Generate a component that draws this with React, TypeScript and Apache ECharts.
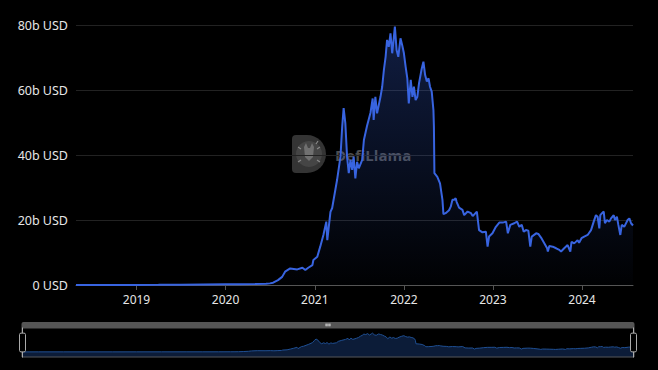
import React, { useEffect, useRef } from "react";
import * as echarts from "echarts";

// TVL in billions of USD
const dates: string[] = [
  "2018-04-28", "2018-07-01", "2018-10-01", "2019-01-01", "2019-04-01", "2019-07-01", "2019-10-01",
  "2020-01-01", "2020-03-01", "2020-05-01", "2020-06-15", "2020-07-01", "2020-07-14", "2020-08-03",
  "2020-08-20", "2020-09-01", "2020-09-22", "2020-10-21", "2020-11-11", "2020-11-23", "2020-12-05",
  "2020-12-22", "2020-12-26", "2021-01-11", "2021-01-23", "2021-02-05", "2021-02-17", "2021-02-21",
  "2021-03-06", "2021-03-13", "2021-04-02", "2021-04-16", "2021-04-23", "2021-04-29", "2021-05-06",
  "2021-05-13", "2021-05-20", "2021-05-27", "2021-06-03", "2021-06-09", "2021-06-16", "2021-06-23",
  "2021-06-30", "2021-07-14", "2021-07-21", "2021-08-03", "2021-08-17", "2021-08-26", "2021-08-30",
  "2021-09-06", "2021-09-13", "2021-09-27", "2021-10-04", "2021-10-11", "2021-10-18", "2021-10-24",
  "2021-10-31", "2021-11-07", "2021-11-14", "2021-11-21", "2021-11-25", "2021-12-02", "2021-12-09",
  "2021-12-18", "2021-12-25", "2022-01-01", "2022-01-08", "2022-01-15", "2022-01-21", "2022-01-29",
  "2022-02-05", "2022-02-11", "2022-02-18", "2022-02-25", "2022-03-04", "2022-03-14", "2022-03-22",
  "2022-03-29", "2022-04-05", "2022-04-12", "2022-04-18", "2022-04-25", "2022-05-02", "2022-05-04",
  "2022-05-06", "2022-05-18", "2022-05-29", "2022-06-08", "2022-06-12", "2022-06-21", "2022-07-05",
  "2022-07-12", "2022-07-19", "2022-07-26", "2022-08-01", "2022-08-05", "2022-08-15", "2022-08-29",
  "2022-09-05", "2022-09-19", "2022-10-03", "2022-10-10", "2022-10-27", "2022-11-05", "2022-11-19",
  "2022-12-03", "2022-12-10", "2022-12-16", "2022-12-30", "2023-01-13", "2023-01-27", "2023-02-10",
  "2023-02-24", "2023-03-03", "2023-03-13", "2023-03-29", "2023-04-10", "2023-04-19", "2023-04-29",
  "2023-05-07", "2023-05-16", "2023-05-26", "2023-06-03", "2023-06-09", "2023-06-27", "2023-07-06",
  "2023-07-17", "2023-07-31", "2023-08-11", "2023-08-14", "2023-08-20", "2023-09-03", "2023-09-17",
  "2023-09-30", "2023-10-07", "2023-10-20", "2023-11-03", "2023-11-14", "2023-11-19", "2023-11-30",
  "2023-12-14", "2023-12-20", "2023-12-30", "2024-01-10", "2024-01-24", "2024-02-07", "2024-02-18",
  "2024-02-27", "2024-03-05", "2024-03-12", "2024-03-16", "2024-03-23", "2024-03-30", "2024-04-04",
  "2024-04-12", "2024-04-22", "2024-04-29", "2024-05-10", "2024-05-15", "2024-05-23", "2024-05-29",
  "2024-06-06", "2024-06-12", "2024-06-22", "2024-07-06", "2024-07-13", "2024-07-20", "2024-07-28",
];

const tvl: number[] = [
  0.0, 0.01, 0.02, 0.03, 0.05, 0.1, 0.15,
  0.2, 0.2, 0.3, 0.4, 0.5, 0.7, 1.5,
  2.5, 4.1, 5.1, 4.8, 5.3, 4.6, 5.3,
  6.1, 7.7, 8.7, 11.8, 15.4, 19.5, 13.8,
  22.5, 23.7, 32.3, 39.5, 48.7, 54.4, 49.7,
  39.5, 34.4, 38.5, 35.4, 39.5, 32.8, 37.9,
  35.9, 38.5, 44.6, 49.0, 53.0, 57.4, 50.8,
  57.9, 52.8, 57.9, 61.0, 66.2, 70.2, 75.4,
  73.3, 77.4, 71.3, 76.4, 79.5, 72.3, 70.2,
  75.9, 73.8, 71.3, 67.2, 63.6, 55.9, 63.1,
  57.9, 61.0, 56.9, 57.9, 62.1, 66.2, 68.7,
  64.6, 62.6, 63.6, 61.0, 59.5, 53.8, 48.7,
  34.4, 33.3, 31.3, 26.2, 21.8, 22.1, 23.0,
  24.1, 26.2, 26.2, 26.7, 25.6, 23.8, 23.1,
  21.5, 22.6, 22.1, 21.2, 22.6, 16.9, 16.2,
  16.4, 11.8, 14.9, 15.9, 17.9, 19.2, 19.2,
  19.5, 15.9, 18.5, 19.0, 19.5, 17.9, 18.5,
  16.4, 16.9, 16.7, 11.8, 14.9, 15.9, 15.7,
  14.6, 12.8, 11.3, 10.3, 12.0, 11.8, 11.3,
  10.8, 10.3, 11.3, 12.3, 10.3, 13.3, 12.8,
  13.8, 13.0, 14.4, 14.9, 15.4, 16.9, 19.5,
  21.5, 21.0, 17.4, 21.5, 22.1, 22.6, 19.0,
  20.0, 19.5, 20.5, 21.5, 20.0, 21.0, 18.5,
  15.4, 18.5, 17.9, 20.0, 20.5, 19.0, 18.3,
];

const yTicks: number[] = [0, 20, 40, 60, 80];

const lineColor = "#3864e0";

export default function App() {
  const ref = useRef<HTMLDivElement>(null);

  useEffect(() => {
    document.body.style.margin = "0";
    document.body.style.background = "#000";
    if (!ref.current) return;
    echarts.graphic.registerShape(
      "llamaD",
      echarts.graphic.extendPath(
        "M4,0 H15 A19,19 0 0 1 15,38 H4 A4,4 0 0 1 0,34 V4 A4,4 0 0 1 4,0 Z",
        {}
      )
    );
    const chart = echarts.init(ref.current, null, { renderer: "svg" });
    const data = dates.map((d, i) => [Date.parse(d), tvl[i]]);
    chart.setOption({
      animation: false,
      backgroundColor: "#000",
      grid: { left: 76, right: 25, top: 25, bottom: 85 },
      graphic: [
        {
          type: "group",
          left: 292,
          top: 135,
          z: 0,
          silent: true,
          children: [
            { type: "llamaD", x: 0, y: 0, style: { fill: "#3a3a3a", opacity: 0.9 } },
            { type: "circle", shape: { cx: 17, cy: 19, r: 13 }, style: { fill: "#4a4a4a", opacity: 0.8 } },
            { type: "polygon", shape: { points: [[12, 12], [14, 8], [16, 13], [18, 13], [20, 8], [22, 12], [21, 22], [17, 26], [13, 22]] }, style: { fill: "#7a7a7a", opacity: 0.8 } },
            { type: "line", shape: { x1: 6, y1: 12, x2: 9, y2: 14 }, style: { stroke: "#8a8a8a", lineWidth: 1.2 } },
            { type: "line", shape: { x1: 28, y1: 12, x2: 25, y2: 14 }, style: { stroke: "#8a8a8a", lineWidth: 1.2 } },
            { type: "line", shape: { x1: 6, y1: 27, x2: 9, y2: 25 }, style: { stroke: "#8a8a8a", lineWidth: 1.2 } },
            { type: "line", shape: { x1: 28, y1: 27, x2: 25, y2: 25 }, style: { stroke: "#8a8a8a", lineWidth: 1.2 } },
            { type: "line", shape: { x1: 26, y1: 6, x2: 24, y2: 9 }, style: { stroke: "#8a8a8a", lineWidth: 1.2 } },
          ],
        },
        {
          type: "text",
          left: 335,
          top: 147,
          z: 0,
          silent: true,
          style: {
            text: "DefiLlama",
            fill: "#4d4d4d",
            font: "bold 15px 'Open Sans', sans-serif",
          },
        },
      ],
      xAxis: {
        type: "time",
        min: "dataMin",
        max: "dataMax",
        boundaryGap: false,
        minInterval: 365 * 24 * 3600 * 1000,
        axisLine: { show: true, lineStyle: { color: "#555" } },
        axisTick: { show: true, lineStyle: { color: "#555" } },
        splitLine: { show: false },
        axisLabel: {
          color: "#e6e6e6",
          fontSize: 12,
          fontFamily: "'Noto Sans', sans-serif",
          formatter: (v: number) => String(new Date(v).getFullYear()),
          hideOverlap: true,
        },
      },
      yAxis: {
        type: "value",
        min: 0,
        max: yTicks[yTicks.length - 1],
        interval: 20,
        axisLine: { show: false },
        axisTick: { show: false },
        splitLine: { lineStyle: { color: "#222" } },
        axisLabel: {
          color: "#e6e6e6",
          fontSize: 12.5,
          fontFamily: "'Noto Sans', sans-serif",
          formatter: (v: number) => (v === 0 ? "0 USD" : `${v}b USD`),
        },
      },
      dataZoom: [
        {
          type: "slider",
          left: 19,
          right: 26,
          top: 322,
          height: 30,
          start: 0,
          end: 100,
          showDetail: false,
          backgroundColor: "rgba(0,0,0,0)",
          borderColor: "#555",
          fillerColor: "rgba(0,0,0,0)",
          dataBackground: {
            lineStyle: { color: "#1f4f93", opacity: 1, width: 1 },
            areaStyle: { color: "#0c1c38", opacity: 1 },
          },
          selectedDataBackground: {
            lineStyle: { color: "#1f4f93", opacity: 1, width: 1 },
            areaStyle: { color: "#0c1c38", opacity: 1 },
          },
          handleStyle: { color: "#000", borderColor: "#aaa" },
          moveHandleSize: 6,
          moveHandleStyle: { color: "#555", opacity: 1 },
          emphasis: {
            handleStyle: { borderColor: "#aaa" },
            moveHandleStyle: { color: "#555" },
          },
        },
      ],
      series: [
        {
          type: "line",
          data,
          showSymbol: false,
          symbol: "none",
          lineStyle: { color: lineColor, width: 2 },
          itemStyle: { color: lineColor },
          areaStyle: {
            color: new echarts.graphic.LinearGradient(0, 0, 0, 1, [
              { offset: 0, color: "rgba(56,100,224,0.42)" },
              { offset: 1, color: "rgba(56,100,224,0.02)" },
            ]),
          },
          z: 2,
        },
      ],
    });
    return () => chart.dispose();
  }, []);

  return (
    <div
      ref={ref}
      style={{ position: "fixed", left: 0, top: 0, width: 658, height: 370 }}
    />
  );
}
